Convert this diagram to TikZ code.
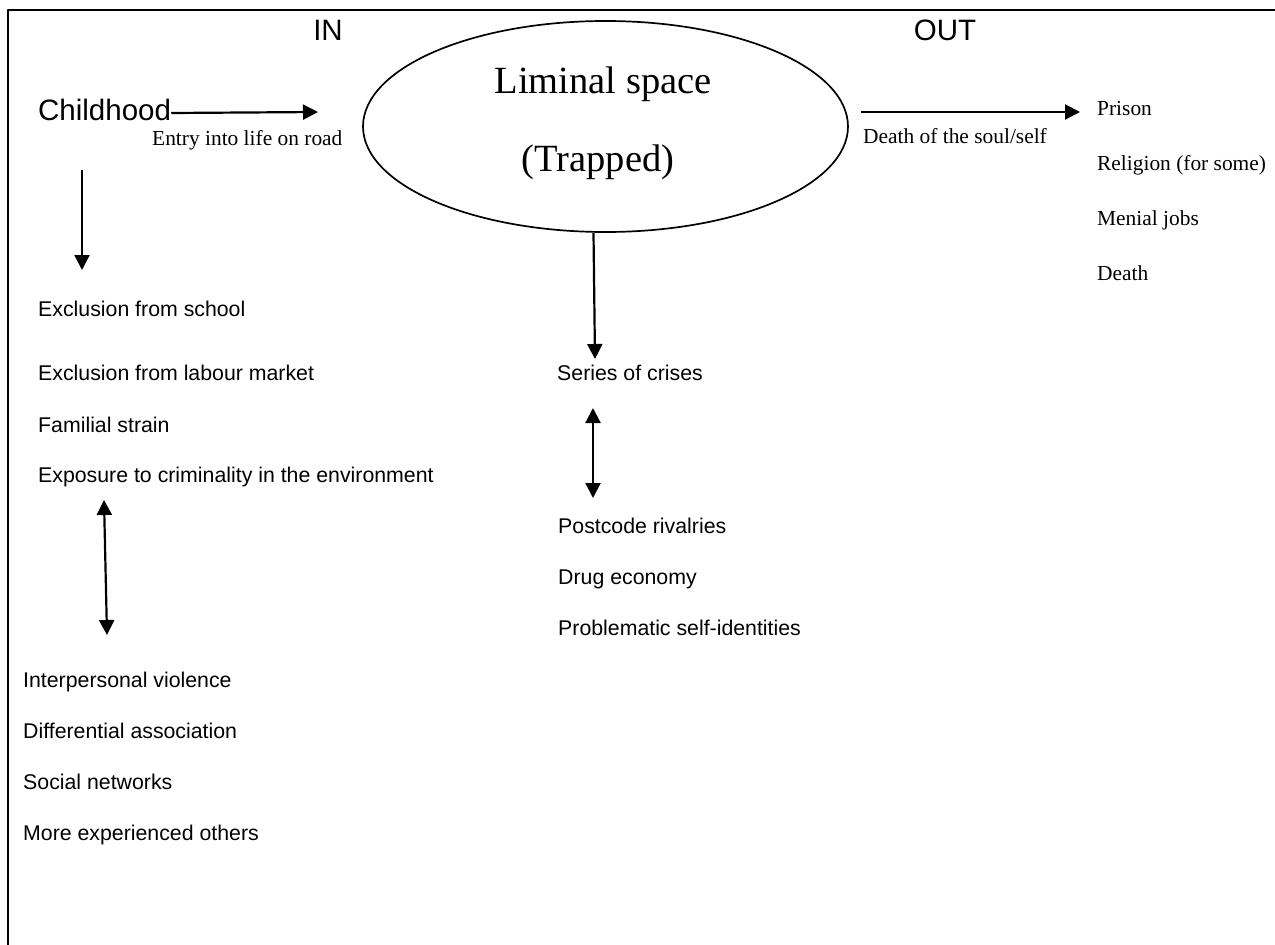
\documentclass[tikz,border=0pt]{standalone}
\usepackage{fontspec}
\setmainfont{Liberation Serif}
\setsansfont{Liberation Sans}
\usetikzlibrary{arrows.meta,shapes.geometric}
\tikzset{>={Triangle[length=15pt,width=15pt]},
every picture/.append style={
    line join=round,
    x=1pt,y=-1pt
  },
sanshead/.style={font=\sffamily\fontsize{29.5}{32}\selectfont,inner sep=0pt},
sansitem/.style={font=\sffamily\fontsize{21.3}{24}\selectfont,anchor=base west,inner sep=0pt},
serifitem/.style={font=\rmfamily\fontsize{21.4}{24}\selectfont,anchor=base west,inner sep=0pt},
serifbig/.style={font=\rmfamily\fontsize{38.5}{40}\selectfont,anchor=base,inner sep=0pt},
flow/.style={line width=2.2pt}}

\begin{document}
\begin{tikzpicture}
        \useasboundingbox (0,0) rectangle (1275,945);
        \draw [line width=2pt] (8,10) rectangle (1290,960);
        \node [sanshead,anchor=base] (in) at (328,40) {IN};
        \node [sanshead,anchor=base] (out) at (945,40) {OUT};
        \node [draw,ellipse,line width=1.7pt,minimum width=485,minimum height=211] (space) at (605.5,126.5) {};
        \node [serifbig] (liminal) at (603,93) {Liminal space};
        \node [serifbig] (trapped) at (598,171) {(Trapped)};
        \node [sanshead,anchor=base west] (child) at (38,120) {Childhood};
        \coordinate (roadend) at (318,112);
        \draw [flow,->] ([yshift=7pt]child.base east) -- (roadend);
        \node [serifitem] (road) at (152,145) {Entry into life on road};
        \coordinate (childtop) at (82,170);
        \coordinate (childtip) at (82,270);
        \draw [flow,->] (childtop) -- (childtip);
        \node [sansitem] (school) at (38,316) {Exclusion from school};
        \node [sansitem] (labour) at (38,380) {Exclusion from labour market};
        \node [sansitem] (strain) at (38,432) {Familial strain};
        \node [sansitem] (exposure) at (38,482) {Exposure to criminality in the environment};
        \coordinate (exptop) at (104,500);
        \coordinate (expbot) at (107,635);
        \draw [flow,<->] (exptop) -- (expbot);
        \foreach \txt [count=\i] in {Interpersonal violence,Differential association,Social networks,More experienced others}
            \node [sansitem] (peer\i) at (23,{636+51*\i}) {\txt};
        \coordinate (crisistip) at (595,359);
        \draw [flow,->] ([xshift=-12pt]space.south) -- (crisistip);
        \node [sansitem] (crises) at (557,380) {Series of crises};
        \coordinate (crisestop) at (593,408);
        \coordinate (crisesbot) at (593,498);
        \draw [flow,<->] (crisestop) -- (crisesbot);
        \foreach \txt [count=\i] in {Postcode rivalries,Drug economy,Problematic self-identities}
            \node [sansitem] (road\i) at (558,{482+51*\i}) {\txt};
        \coordinate (soulstart) at (861,112);
        \coordinate (soulend) at (1080,112);
        \draw [flow,->] (soulstart) -- (soulend);
        \node [serifitem] (soul) at (863,143) {Death of the soul/self};
        \foreach \txt [count=\i] in {Prison,{Religion (for some)},Menial jobs,Death}
            \node [serifitem] (exit\i) at (1097,{60+55*\i}) {\txt};
    \end{tikzpicture}
\end{document}
